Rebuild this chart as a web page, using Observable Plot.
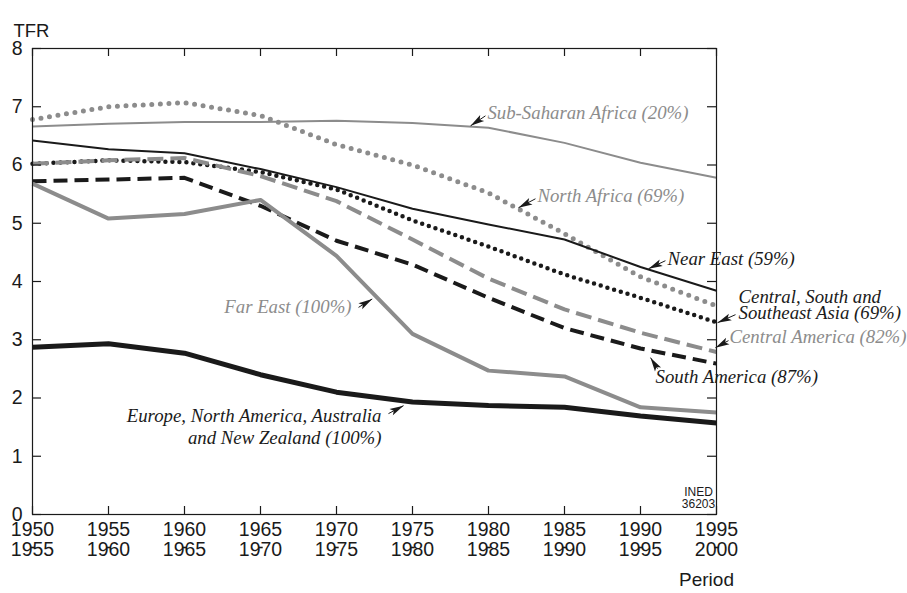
<!DOCTYPE html>
<html><head><meta charset="utf-8">
<script src="https://cdn.jsdelivr.net/npm/d3@7"></script>
<script src="https://cdn.jsdelivr.net/npm/@observablehq/plot@0.6"></script>
<style>body{margin:0;background:#fff}</style>
</head><body><div id="chart"></div>
<script>
// ---- data ----
const years = [1950, 1955, 1960, 1965, 1970, 1975, 1980, 1985, 1990, 1995];
const periodEnds = [1955, 1960, 1965, 1970, 1975, 1980, 1985, 1990, 1995, 2000];
const yTicks = [0, 1, 2, 3, 4, 5, 6, 7, 8];

const subSaharanAfrica = [6.66, 6.71, 6.74, 6.74, 6.76, 6.72, 6.64, 6.38, 6.04, 5.78];
const northAfrica      = [6.78, 7.00, 7.07, 6.85, 6.35, 6.00, 5.52, 4.82, 4.08, 3.58];
const nearEast         = [6.42, 6.27, 6.20, 5.93, 5.62, 5.25, 4.98, 4.72, 4.25, 3.84];
const centralSouthAsia = [6.02, 6.08, 6.05, 5.88, 5.58, 5.05, 4.60, 4.12, 3.72, 3.30];
const centralAmerica   = [6.02, 6.08, 6.12, 5.81, 5.38, 4.72, 4.05, 3.52, 3.12, 2.79];
const southAmerica     = [5.72, 5.75, 5.78, 5.30, 4.70, 4.29, 3.72, 3.20, 2.85, 2.59];
const farEast          = [5.68, 5.08, 5.16, 5.40, 4.44, 3.10, 2.47, 2.37, 1.84, 1.75];
const europeNA         = [2.87, 2.93, 2.77, 2.40, 2.10, 1.93, 1.87, 1.84, 1.69, 1.57];

const labelTexts = [
  "Sub-Saharan Africa (20%)", "North Africa (69%)", "Near East (59%)",
  "Central, South and", "Southeast Asia (69%)", "Central America (82%)",
  "South America (87%)", "Far East (100%)",
  "Europe, North America, Australia", "and New Zealand (100%)"
];
// annotation anchors in data units (year, TFR)
const labelX = [1979.93, 1983.22, 1991.78, 1996.45, 1996.45, 1995.85, 1990.99, 1970.99, 1972.96, 1972.96];
const labelY = [6.90, 5.47, 4.39, 3.74, 3.465, 3.04, 2.355, 3.556, 1.70, 1.31];
const labelAnchor = ["start","start","start","start","start","start","start","end","end","end"];
const labelGray = [true, true, false, false, false, true, false, true, false, false];

const arrowTailX = [1979.80, 1983.09, 1991.64, 1996.25, 1995.79, 1991.12, 1971.45, 1973.42];
const arrowTailY = [6.844, 5.420, 4.357, 3.431, 2.985, 2.504, 3.556, 1.732];
const arrowTipX  = [1978.82, 1981.97, 1990.53, 1995.07, 1994.93, 1990.66, 1972.35, 1974.41];
const arrowTipY  = [6.672, 5.266, 4.220, 3.293, 2.864, 2.693, 3.700, 1.869];

// ---- styles ----
const gray = "#8c8c8c", black = "#1a1a1a";
const series = [
  {values: subSaharanAfrica, stroke: gray,  width: 2,   dash: null, cap: "butt"},
  {values: northAfrica,      stroke: gray,  width: 5,   dash: "0 8.6", cap: "round"},
  {values: nearEast,         stroke: black, width: 2,   dash: null, cap: "butt"},
  {values: centralSouthAsia, stroke: black, width: 4.5, dash: "0 7", cap: "round"},
  {values: centralAmerica,   stroke: gray,  width: 4,   dash: "16 7", cap: "butt"},
  {values: southAmerica,     stroke: black, width: 4,   dash: "14 7", cap: "butt"},
  {values: farEast,          stroke: gray,  width: 4,   dash: null, cap: "butt"},
  {values: europeNA,         stroke: black, width: 5,   dash: null, cap: "butt"}
];

const W = 907, H = 593, mL = 32, mR = 191, mT = 48, mB = 79;
const innerW = W - mL - mR, innerH = H - mT - mB;

const labels = labelTexts.map((t, i) => ({t, x: labelX[i], y: labelY[i], a: labelAnchor[i], g: labelGray[i]}));
const arrows = arrowTailX.map((_, i) => ({x1: arrowTailX[i], y1: arrowTailY[i], x2: arrowTipX[i], y2: arrowTipY[i]}));

function wedge(color) {
  const ns = "http://www.w3.org/2000/svg";
  const m = document.createElementNS(ns, "marker");
  m.setAttribute("viewBox", "-8 -5 16 10");
  m.setAttribute("markerWidth", "16");
  m.setAttribute("markerHeight", "10");
  m.setAttribute("markerUnits", "userSpaceOnUse");
  m.setAttribute("orient", "auto");
  m.setAttribute("refX", "7");
  const p = document.createElementNS(ns, "path");
  p.setAttribute("d", "M7,0 L-7,-3.6 L-4,0 L-7,3.6 Z");
  p.setAttribute("fill", color);
  p.setAttribute("stroke", "none");
  m.appendChild(p);
  return m;
}

const dashSymbol = {draw(context) { context.rect(-2.2, -0.8, 4.4, 1.6); }};

const lineMarks = series.map(s => Plot.line(
  years.map((yr, i) => ({year: yr, v: s.values[i]})),
  {x: "year", y: "v", stroke: s.stroke, strokeWidth: s.width,
   strokeDasharray: s.dash || undefined, strokeLinecap: s.cap, strokeLinejoin: "round"}
));

const labelFont = "'Liberation Serif', 'Times New Roman', serif";
const sans = "'Liberation Sans', Arial, sans-serif";
const narrow = "'Liberation Sans Narrow', 'Liberation Sans', sans-serif";

function build(marker) {
  return Plot.plot({
    width: W, height: H,
    marginLeft: mL, marginRight: mR, marginTop: mT, marginBottom: mB,
    style: {fontFamily: sans, background: "#fff", overflow: "visible"},
    x: {domain: [1950, 1995], axis: null},
    y: {domain: [0, 8], axis: null},
    marks: [
      ...lineMarks,
      Plot.frame({stroke: black, strokeWidth: 1.2}),
      Plot.tickX(years, {x: d => d, insetTop: innerH - 8, stroke: black, strokeWidth: 1.2}),
      Plot.tickX(years, {x: d => d, insetBottom: innerH - 8, stroke: black, strokeWidth: 1.2}),
      Plot.tickY(yTicks, {y: d => d, insetRight: innerW - 9, stroke: black, strokeWidth: 1.2}),
      Plot.tickY(yTicks, {y: d => d, insetLeft: innerW - 9, stroke: black, strokeWidth: 1.2}),
      Plot.text(yTicks, {y: d => d, text: d => String(d), frameAnchor: "left", dx: -10, textAnchor: "end", fontSize: 19.5, fill: black}),
      Plot.text(years, {x: d => d, text: d => String(d), frameAnchor: "bottom", dy: 21.5, fontSize: 19.5, fill: black}),
      Plot.dot(years, {x: d => d, frameAnchor: "bottom", dy: 33, symbol: dashSymbol, r: 3, fill: black, stroke: null}),
      Plot.text(years, {x: d => d, text: (d, i) => String(periodEnds[i]), frameAnchor: "bottom", dy: 41.5, fontSize: 19.5, fill: black}),
      Plot.text(["TFR"], {frameAnchor: "top-left", dx: -19, dy: -25, textAnchor: "start", fontSize: 18.5, fill: black}),
      Plot.text(["Period"], {frameAnchor: "bottom-right", dx: -10, dy: 71, textAnchor: "middle", fontSize: 19, fill: black}),
      Plot.text(["INED"], {frameAnchor: "bottom-right", dx: -18, dy: -19, textAnchor: "middle", fontSize: 12, fill: black, fontFamily: narrow}),
      Plot.text(["36203"], {frameAnchor: "bottom-right", dx: -18, dy: -7, textAnchor: "middle", fontSize: 12, fill: black, fontFamily: narrow}),
      Plot.link(arrows, {x1: "x1", y1: "y1", x2: "x2", y2: "y2", stroke: black, strokeWidth: 1, markerEnd: marker}),
      Plot.text(labels.filter(d => d.a === "start"), {x: "x", y: "y", text: "t", textAnchor: "start",
        fill: d => d.g ? gray : black, fontStyle: "italic", fontFamily: labelFont, fontSize: 18.8}),
      Plot.text(labels.filter(d => d.a === "end"), {x: "x", y: "y", text: "t", textAnchor: "end",
        fill: d => d.g ? gray : black, fontStyle: "italic", fontFamily: labelFont, fontSize: 18.8})
    ]
  });
}

let chart;
try { chart = build(wedge); } catch (e) { chart = build("arrow"); }
document.getElementById("chart").appendChild(chart);
</script>
</body></html>
